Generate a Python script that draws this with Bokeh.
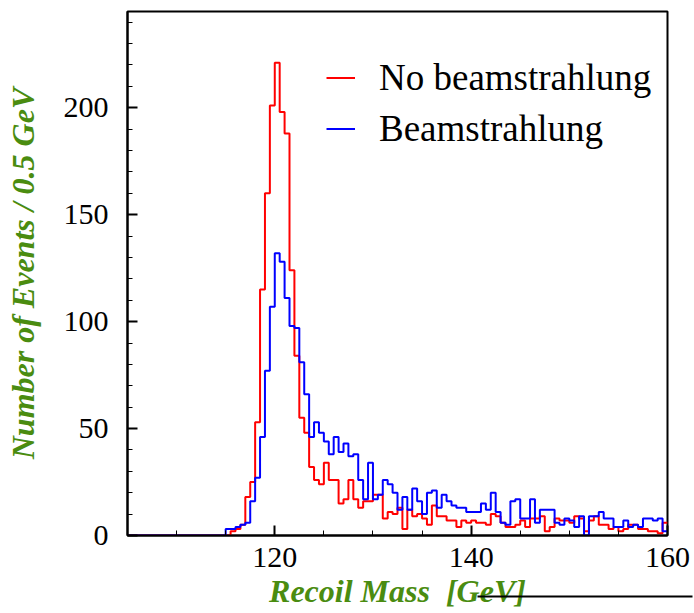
import numpy as np
from bokeh.plotting import figure
from bokeh.models import FixedTicker, Legend, LegendItem, Range1d, Label
from bokeh.embed import file_html
from bokeh.resources import INLINE

# Recoil-mass histograms, 0.5 GeV bins from 105 to 160 GeV
x_start, x_stop, bin_width = 105.0, 160.0, 0.5

no_beamstrahlung = [
    0, 0, 0, 0, 0, 0, 0, 0, 0, 0, 0, 0, 0, 0, 0, 0, 0, 0, 0, 0,
    0, 2, 3, 5, 18, 25, 53, 115, 160, 201, 221, 198, 188, 124, 84, 55,
    48, 32, 26, 24, 34, 26, 26, 15, 17, 26, 17, 13, 16, 16, 19, 19,
    8, 11, 10, 13, 3, 12, 9, 10, 8, 5, 14, 9, 9, 7, 7, 4, 7, 6,
    7, 6, 6, 5, 10, 9, 6, 4, 4, 5, 7, 4, 8, 8, 9, 2, 4, 8, 7, 7,
    6, 9, 8, 2, 7, 9, 5, 5, 3, 4, 2, 3, 5, 5, 3, 3, 2, 2, 1, 6,
]

beamstrahlung = [
    0, 0, 0, 0, 0, 0, 0, 0, 0, 0, 0, 0, 0, 0, 0, 0, 0, 0, 0, 0,
    3, 3, 4, 5, 6, 16, 27, 46, 77, 107, 132, 128, 111, 98, 97, 81,
    66, 46, 53, 48, 44, 38, 46, 39, 43, 37, 38, 26, 17, 34, 17, 19,
    26, 24, 20, 12, 18, 12, 22, 16, 10, 20, 21, 13, 19, 16, 14, 13, 13, 11,
    11, 11, 15, 12, 20, 11, 6, 5, 16, 17, 8, 8, 17, 6, 12, 12, 12, 6,
    5, 8, 7, 4, 9, 0, 9, 9, 11, 8, 8, 4, 4, 7, 4, 5, 4, 8, 8, 7, 8, 2,
]

x_major = [120, 140, 160]
x_minor = [105, 110, 115, 120, 125, 130, 135, 140, 145, 150, 155, 160]
y_major = [0, 50, 100, 150, 200]
y_minor = list(range(0, 250, 10))

edges = x_start + bin_width * np.arange(len(no_beamstrahlung) + 1)

serif = "Liberation Serif"
title_green = "#4a8c10"

p = figure(width=694, height=613, output_backend="svg",
           toolbar_location=None,
           x_range=Range1d(x_start, x_stop), y_range=Range1d(0, 245),
           min_border_left=127, min_border_right=27,
           min_border_top=11, min_border_bottom=78)

p.xgrid.visible = False
p.ygrid.visible = False
p.background_fill_color = "white"
p.border_fill_color = "white"
p.outline_line_color = "black"
p.outline_line_width = 2

# step outlines
xs = list(edges[:-1]) + [edges[-1]]
r_red = p.step(xs, no_beamstrahlung + [no_beamstrahlung[-1]], mode="after",
               line_color="#ff0000", line_width=2)
r_blue = p.step(xs, beamstrahlung + [beamstrahlung[-1]], mode="after",
                line_color="#0000ff", line_width=2)

# axes
p.xaxis.ticker = FixedTicker(ticks=x_major, minor_ticks=x_minor)
p.yaxis.ticker = FixedTicker(ticks=y_major, minor_ticks=y_minor)
for ax in (p.xaxis[0], p.yaxis[0]):
    ax.axis_line_width = 2
    ax.axis_line_color = "black"
    ax.major_tick_in = 10
    ax.major_tick_out = 0
    ax.minor_tick_in = 5
    ax.minor_tick_out = 0
    ax.major_tick_line_width = 2
    ax.minor_tick_line_width = 1
    ax.major_label_text_font = serif
    ax.major_label_text_font_size = "30px"
    ax.major_label_text_color = "black"
    ax.major_label_text_line_height = 1.0
    ax.axis_label_text_font = serif
    ax.axis_label_text_font_size = "32px"
    ax.axis_label_text_font_style = "bold italic"
    ax.axis_label_text_color = title_green
    ax.axis_label_text_line_height = 1.0

p.xaxis.axis_label = "Recoil Mass \u00a0[GeV]"
p.yaxis.axis_label = "Number of Events / 0.5 GeV"
p.xaxis.major_label_standoff = 12
p.xaxis.axis_label_standoff = 3
p.yaxis.major_label_standoff = 19
p.yaxis.axis_label_standoff = 20

legend = Legend(items=[LegendItem(label="No beamstrahlung", renderers=[r_red]),
                       LegendItem(label="Beamstrahlung", renderers=[r_blue])],
                location=(199, 384), padding=0, margin=0, spacing=6,
                glyph_width=29, glyph_height=45, label_height=45,
                label_standoff=24, label_text_font=serif,
                label_text_font_size="37px", label_text_color="black",
                border_line_alpha=0, background_fill_alpha=0)
p.add_layout(legend)

# stray rule under the axis title: a zero-height label box with a 2px border
p.add_layout(Label(x=350, y=15, x_units="screen", y_units="screen",
                   text="\u00a0", text_font_size="0px", anchor="top_left",
                   padding=(0, 215, 0, 0), border_line_color="black",
                   border_line_width=2), "below")

open("out.html", "w").write(file_html(p, INLINE))
